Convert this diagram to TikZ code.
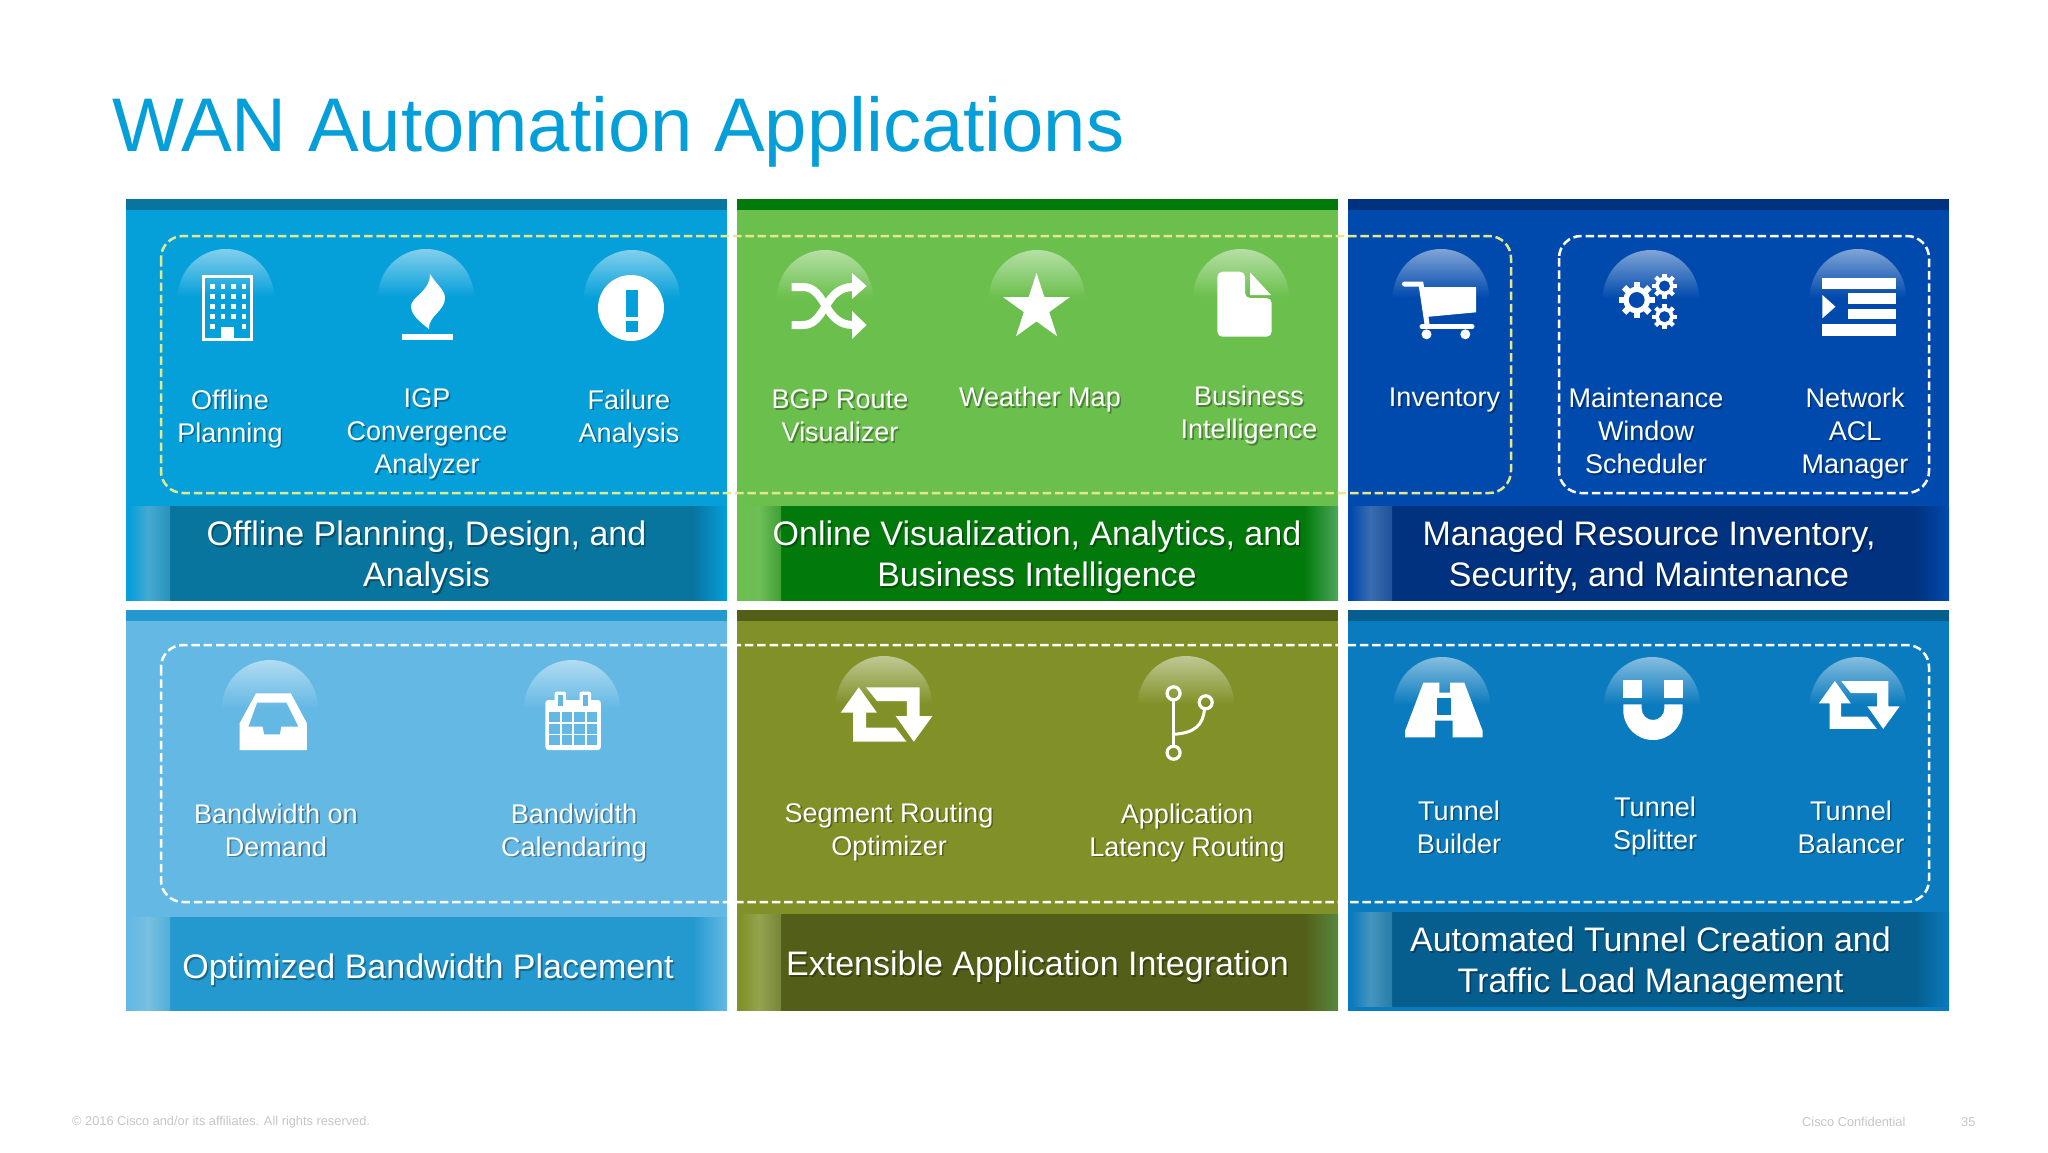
\documentclass[tikz,border=0pt]{standalone}
\usepackage{fontspec}
\setmainfont{Liberation Sans}
\definecolor{titleblue}{HTML}{049FD9}
\definecolor{footgray}{HTML}{C6C6C6}
\definecolor{dashyellow}{HTML}{E2E88C}
\definecolor{bodyA}{HTML}{059FDA}\definecolor{darkA}{HTML}{08759F}\definecolor{stripeA}{HTML}{45AAD2}
\definecolor{bodyB}{HTML}{6BBF4C}\definecolor{darkB}{HTML}{027A0B}\definecolor{stripeB}{HTML}{6FBE58}\definecolor{endB}{HTML}{4CA75C}
\definecolor{bodyC}{HTML}{014AAD}\definecolor{darkC}{HTML}{00327F}\definecolor{stripeC}{HTML}{3A6CB0}
\definecolor{bodyD}{HTML}{64B8E4}\definecolor{darkD}{HTML}{2499CF}\definecolor{stripeD}{HTML}{77C0DF}
\definecolor{bodyE}{HTML}{819128}\definecolor{darkE}{HTML}{535F18}\definecolor{stripeE}{HTML}{93A44F}\definecolor{endE}{HTML}{57883F}
\definecolor{bodyF}{HTML}{0A7BBE}\definecolor{darkF}{HTML}{065E8F}\definecolor{stripeF}{HTML}{4595BF}
\tikzset{
  x=1pt,y=-1pt,
  item/.style={text=white,align=center,inner sep=0pt,font=\fontsize{27}{33}\selectfont},
  capt/.style={text=white,align=center,inner sep=0pt,font=\fontsize{34}{41}\selectfont},
  dashbox/.style={line width=2.5pt,rounded corners=22pt,dash pattern=on 8.5pt off 3.8pt},
  foot/.style={text=footgray,anchor=west,inner sep=0pt,font=\fontsize{12.8}{15}\selectfont},
}
% #1 x1, #2 x2, #3 top, #4 bottom, #5 caption top, #6 caption bottom, #7 letter, #8 right end colour
\newcommand{\panelbox}[8]{%
  \fill[body#7] (#1,#3) rectangle (#2,#4);
  \fill[dark#7] (#1,#3) rectangle (#2,#3+10.5);
  \begin{scope}
  \clip (#1,#5) rectangle (#2,#6);
  \fill[dark#7] (#1+44,#5-2) rectangle (#2-34,#6+2);
  \shade[left color=body#7,right color=stripe#7] (#1+3,#5-2) rectangle (#1+22,#6+2);
  \shade[left color=stripe#7,right color=dark#7!45!stripe#7] (#1+22,#5-2) rectangle (#1+44,#6+2);
  \shade[left color=dark#7,middle color=dark#7!55!#8,right color=#8] (#2-34,#5-2) rectangle (#2,#6+2);
  \end{scope}
}
\newcommand{\dome}[3]{\shade[top color=#3!50!white,middle color=#3!82!white,bottom color=#3] (#1-48,#2+48) arc[start angle=180,end angle=0,radius=48pt] -- cycle;}
% #1 name, #2 x, #3 y, #4 style, #5 text
\newcommand{\lbl}[5]{%
  \node[#4,text=black,opacity=.32] (#1s) at (#2+1.6,#3+1.8) {#5};
  \node[#4] (#1) at (#2,#3) {#5};
}
\newcommand{\retweet}[3]{%
  \begin{scope}[shift={(#1,#2)},scale=#3]
  \fill[white] (18.2,0)--(36.4,25.4)--(25.4,25.4)--(25.4,40.4)--(55,40.4)--(65.9,54.4)--(12.4,54.4)--(12.4,25.4)--(0,25.4)--cycle;
  \fill[white] (25.4,0)--(78.9,0)--(78.9,28.7)--(91.9,28.7)--(73.2,54.4)--(55,28.7)--(66.3,28.7)--(66.3,13.7)--(36.4,13.7)--cycle;
  \end{scope}}
\newcommand{\gearicon}[4]{%
  \foreach \a in {0,45,...,315}{\draw[white,line width=#3*.34pt] (#1,#2)++(\a:#3*.6pt) -- ++(\a:#3*.4pt);}
  \fill[white] (#1,#2) circle[radius=#3*.74pt];
  \fill[#4] (#1,#2) circle[radius=#3*.44pt];}
\begin{document}
\begin{tikzpicture}
\useasboundingbox (0,0) rectangle (2048,1152);
\fill[white] (0,0) rectangle (2048,1152);
\node[text=titleblue,inner sep=0pt,anchor=base west,font=\fontsize{76.1}{80}\selectfont] (title) at (112,151.5) {WAN Automation Applications};

\panelbox{126}{727}{199}{601}{506}{600}{A}{bodyA}
\panelbox{737}{1338}{199}{601}{506}{600}{B}{endB}
\panelbox{1348}{1949}{199}{601}{506}{600}{C}{bodyC}
\panelbox{126}{727}{610}{1011}{917}{1010}{D}{bodyD}
\panelbox{737}{1338}{610}{1011}{914}{1010}{E}{endE}
\panelbox{1348}{1949}{610}{1011}{912}{1006}{F}{bodyF}

% domes
\dome{226}{249}{bodyA}\dome{426}{249}{bodyA}\dome{632}{250}{bodyA}
\dome{825}{250}{bodyB}\dome{1037}{250}{bodyB}\dome{1241}{249}{bodyB}
\dome{1441}{249}{bodyC}\dome{1651}{250}{bodyC}\dome{1858}{249}{bodyC}
\dome{270}{660}{bodyD}\dome{572}{660}{bodyD}
\dome{884}{656}{bodyE}\dome{1186}{656}{bodyE}
\dome{1442}{657}{bodyF}\dome{1652}{657}{bodyF}\dome{1858}{657}{bodyF}

% dashed groups
\draw[dashbox,dashyellow] (161,236) rectangle (1511,493);
\draw[dashbox,white] (1559,236) rectangle (1929,493);
\draw[dashbox,white] (161,645) rectangle (1929,902);

% building
\draw[white,line width=3pt] (203,276.5) rectangle (251.5,339.5);
\fill[white] (220.5,327) rectangle (234.4,341);
\foreach \wx in {210,220.5,231,241.5}{\foreach \wy in {284,294,304,314}{\fill[white] (\wx,\wy) rectangle ++(4.5,4.5);}}
\fill[white] (210,324) rectangle ++(4.5,4.5);\fill[white] (241.5,324) rectangle ++(4.5,4.5);
% flame
\fill[white] (402,334) rectangle (453,340);
\fill[white] (430,274) .. controls (436,284) and (445,290) .. (445,298) .. controls (445,311) and (428,316) .. (429,329) .. controls (420,322) and (411,315) .. (411,306) .. controls (411,297) and (430,292) .. (430,274) -- cycle;
% alert
\fill[white] (631,308) circle[radius=33pt];
\fill[bodyA] (625.6,290) rectangle (637.7,317);\fill[bodyA] (625.6,321) rectangle (637.7,332);
% shuffle
\draw[white,line width=8pt] (791.5,287) -- (803,287) .. controls (826,287) and (824,325) .. (853,325);
\draw[white,line width=8pt] (791.5,325) -- (803,325) .. controls (826,325) and (824,287) .. (853,287);
\fill[white] (852,273)--(866.6,286)--(852,299)--cycle;
\fill[white] (852,311)--(866.6,325)--(852,339)--cycle;
% star
\fill[white] (1036.5,273)--(1044.4,297.2)--(1069.8,297.2)--(1049.2,312.1)--(1057.1,336.3)--(1036.5,321.4)--(1015.9,336.3)--(1023.8,312.1)--(1003.2,297.2)--(1028.6,297.2)--cycle;
% document
\fill[white,rounded corners=5pt] (1217.4,271.7) -- (1245,271.7) -- (1245,298) -- (1271.6,298) -- (1271.6,336.7) -- (1217.4,336.7) -- cycle;
\fill[white] (1240,276) rectangle (1245,298);\fill[white] (1240,298) rectangle (1250,303);
\fill[white] (1250,272.3)--(1271,295)--(1250,295)--cycle;
% cart
\draw[white,line width=5pt,line cap=round] (1404.5,284) -- (1421,284) -- (1427,324);
\fill[white] (1421.6,287)--(1476,287)--(1476,312.3)--(1426,317)--cycle;
\draw[white,line width=5pt,line cap=round] (1422,326.7) -- (1472,326.7);
\fill[white] (1426.5,334.3) circle[radius=5pt];\fill[white] (1465.3,334.3) circle[radius=5pt];
% gears
\gearicon{1636.7}{300}{18}{bodyC}
\gearicon{1664.5}{286}{12.5}{bodyC}
\gearicon{1664.5}{316.7}{12.5}{bodyC}
% ACL
\fill[white] (1821.6,277.7) rectangle (1895.5,288.7);
\fill[white] (1848,293.3) rectangle (1895.5,304);
\fill[white] (1848,308.7) rectangle (1895.5,319.3);
\fill[white] (1821.6,324.3) rectangle (1895.5,335.7);
\fill[white] (1822.4,295)--(1835.5,306.7)--(1822.4,318.3)--cycle;
% inbox
\fill[white,even odd rule] (256,693.3)--(290.8,693.3)--(306.9,723.3)--(306.9,750)--(239.6,750)--(239.6,723.3)--cycle
 (257,702.7)--(286.5,702.7)--(298.6,726.7)--(281.3,726.7)--(280,734.3)--(264,734.3)--(262.6,726.7)--(248.3,726.7)--cycle;
% calendar
\fill[white,rounded corners=3pt] (545.4,700) rectangle (600.9,750);
\foreach \cx in {554.6,579.5}{\fill[white,rounded corners=2pt] (\cx,691.7) rectangle ++(11.5,17);\fill[bodyD] (\cx+3.5,695) rectangle ++(4.5,11);}
\foreach \cx in {549,561.5,574,586.5}{\foreach \cy in {711.7,723.5,735.3}{\fill[bodyD] (\cx,\cy) rectangle ++(10.5,10);}}
% retweet icons
\retweet{840.6}{687.3}{1}
\retweet{1818.8}{681}{.88}
% branch
\draw[white,line width=3pt] (1173.6,700) -- (1173.6,746);
\draw[white,line width=3pt] (1173.6,734.3) .. controls (1195,733) and (1203,725) .. (1204.5,709);
\draw[white,line width=3.2pt] (1173.6,693.3) circle[radius=6.5pt];
\draw[white,line width=3.2pt] (1173.6,752.7) circle[radius=6.5pt];
\draw[white,line width=3.2pt] (1205.7,702.3) circle[radius=6.5pt];
% road
\fill[white] (1423.3,682.7)--(1439.3,682.7)--(1439.3,692.7)--(1450,692.7)--(1450,682.7)--(1464.3,682.7)--(1482.7,731)--(1482.7,737.3)--(1452.7,737.3)--(1452.7,720.7)--(1435,720.7)--(1435,737.3)--(1405,737.3)--(1405,731)--cycle;
\fill[bodyF] (1436.7,698.3) rectangle (1450.7,715);
% magnet
\fill[white] (1623.3,680) rectangle (1641.7,698.3);
\fill[white] (1664.3,680) rectangle (1682.7,698.3);
\fill[white] (1623.3,704.3) -- (1641.7,704.3) -- (1641.7,708.7) arc[start angle=180,end angle=360,radius=11.3pt] -- (1664.3,704.3) -- (1682.7,704.3) -- (1682.7,710.3) arc[start angle=0,end angle=-180,radius=29.7pt] -- cycle;

% labels
\lbl{a1}{230}{418.6}{item}{Offline\\Planning}
\lbl{a2}{427}{433.6}{item}{IGP\\Convergence\\Analyzer}
\lbl{a3}{629}{418.6}{item}{Failure\\Analysis}
\lbl{b1}{840}{416}{item}{BGP Route\\Visualizer}
\lbl{b2}{1040}{400}{item}{Weather Map}
\lbl{b3}{1249}{415.5}{item}{Business\\Intelligence}
\lbl{c1}{1444.5}{400}{item}{Inventory}
\lbl{c2}{1646}{431}{item}{Maintenance\\Window\\Scheduler}
\lbl{c3}{1855}{434}{item}{Network\\ACL\\Manager}
\lbl{d1}{276}{830}{item}{Bandwidth on\\Demand}
\lbl{d2}{574}{832.6}{item}{Bandwidth\\Calendaring}
\lbl{e1}{889}{831.6}{item}{Segment Routing\\Optimizer}
\lbl{e2}{1187}{832.6}{item}{Application\\Latency Routing}
\lbl{f1}{1459}{827}{item}{Tunnel\\Builder}
\lbl{f2}{1655}{826.5}{item}{Tunnel\\Splitter}
\lbl{f3}{1851}{827}{item}{Tunnel\\Balancer}
\lbl{ca}{426.5}{557.6}{capt}{Offline Planning, Design, and\\Analysis}
\lbl{cb}{1037}{557.6}{capt}{Online Visualization, Analytics, and\\Business Intelligence}
\lbl{cc}{1649}{557.6}{capt}{Managed Resource Inventory,\\Security, and Maintenance}
\lbl{cd}{428}{969.5}{capt}{Optimized Bandwidth Placement}
\lbl{ce}{1037.5}{966.6}{capt}{Extensible Application Integration}
\lbl{cf}{1650.5}{963.6}{capt}{Automated Tunnel Creation and\\Traffic Load Management}

% footer
\node[foot] (f1t) at (72,1122) {© 2016 Cisco and/or its affiliates. All rights reserved.};
\node[foot] (f2t) at (1802,1122) {Cisco Confidential};
\node[foot] (f3t) at (1961,1122) {35};
\end{tikzpicture}
\end{document}
